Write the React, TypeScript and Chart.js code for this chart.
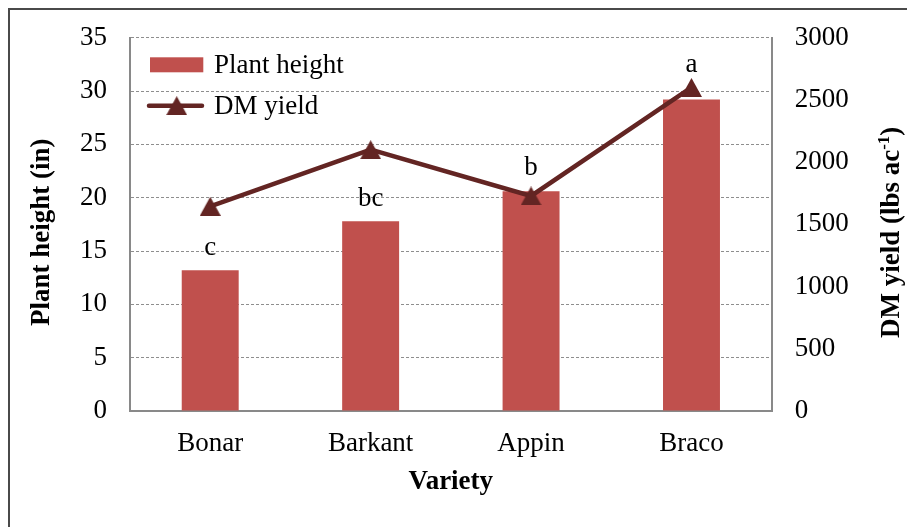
import React, { useEffect, useRef } from 'react';
import { Chart, registerables } from 'chart.js';

Chart.register(...registerables);

// ---- data ----
const varieties = ['Bonar', 'Barkant', 'Appin', 'Braco'];
const plantHeight = [13.2, 17.8, 20.6, 29.2];
const dmYield = [1645, 2100, 1728, 2600];
const letters = ['c', 'bc', 'b', 'a'];
// baseline position of each significance letter, in plant-height (left axis) units
const letterHeights = [14.6, 19.2, 22.1, 31.8];
const heightAxis = { min: 0, max: 35, step: 5 };
const yieldAxis = { min: 0, max: 3000, step: 500 };
const seriesLabels = { bar: 'Plant height', line: 'DM yield' };
const axisTitles = { x: 'Variety', left: 'Plant height (in)', right: 'DM yield (lbs ac', rightSup: '-1', rightEnd: ')' };

// ---- styles ----
const FAMILY = "'Liberation Serif', 'Times New Roman', serif";
const FS = 27;
const BAR_COLOR = '#C0504D';
const LINE_COLOR = '#632523';
const AXIS_COLOR = '#898989';
const GRID_COLOR = '#8e8e8e';

function makeTriangle(color: string, w: number, h: number) {
  const c = document.createElement('canvas');
  c.width = w;
  c.height = h;
  const g = c.getContext('2d')!;
  g.fillStyle = color;
  g.beginPath();
  g.moveTo(w / 2, 0);
  g.lineTo(w, h);
  g.lineTo(0, h);
  g.closePath();
  g.fill();
  return c;
}

export default function App() {
  const ref = useRef<HTMLCanvasElement | null>(null);

  useEffect(() => {
    if (!ref.current) return;
    const tri = makeTriangle(LINE_COLOR, 21, 19);

    const overlay = {
      id: 'overlay',
      afterDraw(chart: any) {
        const ctx = chart.ctx as CanvasRenderingContext2D;
        const ca = chart.chartArea;
        const xs = chart.scales.x;
        const ys = chart.scales.y;
        ctx.save();
        // legend
        ctx.font = `${FS}px ${FAMILY}`;
        ctx.fillStyle = BAR_COLOR;
        ctx.fillRect(ca.left + 20, ca.top + 19.6, 53.3, 15);
        ctx.fillStyle = '#000';
        ctx.textAlign = 'left';
        ctx.textBaseline = 'alphabetic';
        ctx.fillText(seriesLabels.bar, ca.left + 84, ca.top + 35);
        const ly = ca.top + 68;
        ctx.strokeStyle = LINE_COLOR;
        ctx.lineWidth = 4.5;
        ctx.lineCap = 'round';
        ctx.beginPath();
        ctx.moveTo(ca.left + 19, ly);
        ctx.lineTo(ca.left + 72, ly);
        ctx.stroke();
        ctx.drawImage(tri, ca.left + 46.7 - tri.width / 2, ly - tri.height / 2);
        ctx.fillStyle = '#000';
        ctx.fillText(seriesLabels.line, ca.left + 84, ca.top + 76.3);

        // significance letters
        ctx.textAlign = 'center';
        letters.forEach((t, i) => {
          ctx.fillText(t, xs.getPixelForValue(i), ys.getPixelForValue(letterHeights[i]));
        });

        // left axis title
        const cy = (ca.top + ca.bottom) / 2 + 8;
        ctx.font = `bold ${FS}px ${FAMILY}`;
        ctx.save();
        ctx.translate(ys.left + 41.4, cy);
        ctx.rotate(-Math.PI / 2);
        ctx.textAlign = 'center';
        ctx.fillText(axisTitles.left, 0, 0);
        ctx.restore();

        // right axis title with superscript
        const y1 = chart.scales.y1;
        ctx.save();
        ctx.translate(y1.right - 8, cy);
        ctx.rotate(-Math.PI / 2);
        ctx.textAlign = 'left';
        const mainFont = `bold ${FS}px ${FAMILY}`;
        const supFont = `bold 17px ${FAMILY}`;
        ctx.font = mainFont;
        const w1 = ctx.measureText(axisTitles.right).width;
        const w3 = ctx.measureText(axisTitles.rightEnd).width;
        ctx.font = supFont;
        const w2 = ctx.measureText(axisTitles.rightSup).width;
        let x = -(w1 + w2 + w3) / 2;
        ctx.font = mainFont;
        ctx.fillText(axisTitles.right, x, 0);
        x += w1;
        ctx.font = supFont;
        ctx.fillText(axisTitles.rightSup, x, -10);
        x += w2;
        ctx.font = mainFont;
        ctx.fillText(axisTitles.rightEnd, x, 0);
        ctx.restore();

        ctx.restore();
      },
    };

    const tickFont = { family: FAMILY, size: FS };
    const plain = (v: any) => String(v);

    const chart = new Chart(ref.current, {
      type: 'bar',
      data: {
        labels: varieties,
        datasets: [
          {
            type: 'line',
            label: seriesLabels.line,
            data: dmYield,
            yAxisID: 'y1',
            borderColor: LINE_COLOR,
            backgroundColor: LINE_COLOR,
            borderWidth: 4.5,
            pointStyle: tri as any,
            pointRadius: 10,
            pointHoverRadius: 10,
            tension: 0,
            fill: false,
            order: 0,
          } as any,
          {
            type: 'bar',
            label: seriesLabels.bar,
            data: plantHeight,
            yAxisID: 'y',
            backgroundColor: BAR_COLOR,
            barPercentage: 0.355,
            categoryPercentage: 1,
            order: 1,
          } as any,
        ],
      },
      options: {
        responsive: false,
        animation: false,
        events: [],
        layout: { padding: { top: 29.7, left: 0, right: 0, bottom: 0 } },
        plugins: {
          legend: { display: false },
          tooltip: { enabled: false },
        },
        scales: {
          x: {
            grid: { display: false, drawTicks: false },
            border: { display: true, color: AXIS_COLOR, width: 2 },
            ticks: { color: '#000', font: tickFont, padding: 17 },
            title: {
              display: true,
              text: axisTitles.x,
              color: '#000',
              font: { family: FAMILY, size: FS, weight: 'bold' },
              padding: { top: 0, bottom: 28.5 },
            },
            afterFit: (s: any) => {
              s.height = 116;
              s.paddingLeft = 0;
              s.paddingRight = 0;
            },
          },
          y: {
            position: 'left',
            min: heightAxis.min,
            max: heightAxis.max,
            ticks: { stepSize: heightAxis.step, color: '#000', font: tickFont, padding: 23, callback: plain },
            grid: { color: GRID_COLOR, lineWidth: 1, drawTicks: false },
            border: { display: true, color: AXIS_COLOR, width: 2, dash: [3, 2] },
            afterFit: (s: any) => {
              s.width = 122;
              s.paddingTop = 0;
              s.paddingBottom = 0;
            },
          },
          y1: {
            position: 'right',
            min: yieldAxis.min,
            max: yieldAxis.max,
            ticks: { stepSize: yieldAxis.step, color: '#000', font: tickFont, padding: 23, callback: plain },
            grid: { display: false, drawTicks: false },
            border: { display: true, color: AXIS_COLOR, width: 2 },
            afterFit: (s: any) => {
              s.width = 135.3;
              s.paddingTop = 0;
              s.paddingBottom = 0;
            },
          },
        },
      } as any,
      plugins: [overlay],
    });
    return () => chart.destroy();
  }, []);

  return (
    <div style={{ position: 'fixed', left: 0, top: 0, width: 907, height: 527, overflow: 'hidden', background: '#fff' }}>
      <div
        style={{
          position: 'absolute',
          left: 8,
          top: 8,
          width: 1000,
          height: 1000,
          borderTop: '2px solid #4a4a4a',
          borderLeft: '2px solid #4a4a4a',
        }}
      />
      <canvas
        ref={ref}
        width={899}
        height={519}
        style={{ position: 'absolute', left: 8, top: 8, width: 899, height: 519 }}
      />
    </div>
  );
}
